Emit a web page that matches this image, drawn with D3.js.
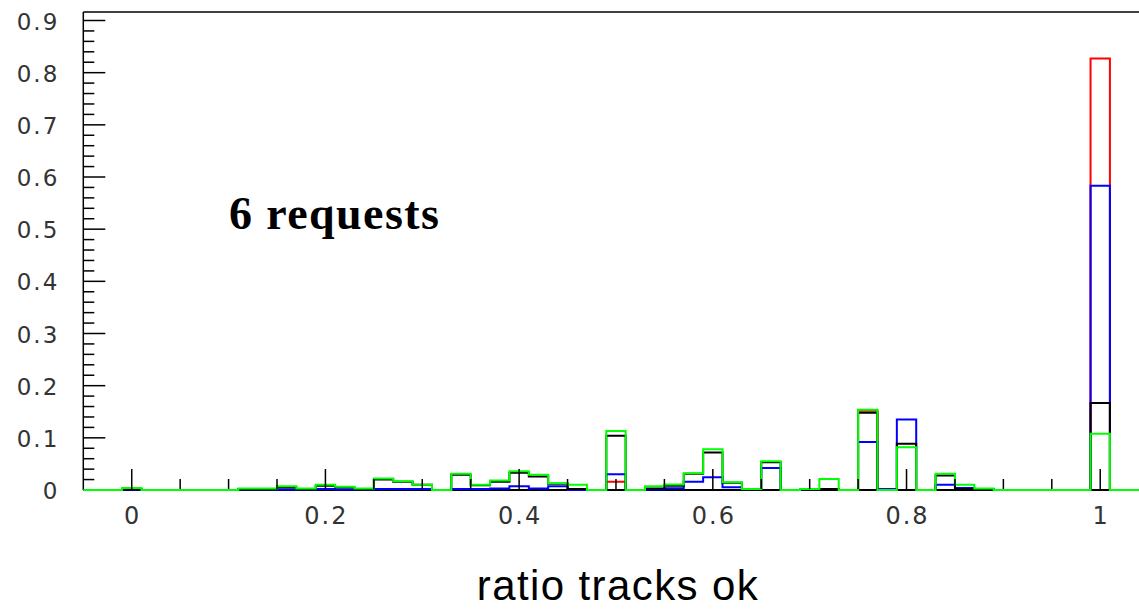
<!DOCTYPE html>
<html>
<head>
<meta charset="utf-8">
<script src="https://cdn.jsdelivr.net/npm/d3@7"></script>
<style>
  html, body { margin: 0; padding: 0; background: #fff; }
  svg { display: block; }
</style>
</head>
<body>
<svg id="chart" width="1139" height="610"></svg>
<script>
// Histogram binning: 55 bins of width 0.02 from -0.05 to 1.05
const binLow = -0.05;
const binWidth = 0.02;
const binCount = 55;

// Normalised bin contents, one array per request class (bin centres -0.04 ... 1.04)
const redValues = [
  0, 0, 0, 0, 0, 0, 0, 0, 0, 0,
  0, 0, 0, 0, 0, 0, 0, 0, 0, 0,
  0, 0, 0, 0, 0, 0, 0, 0.016, 0, 0,
  0, 0, 0, 0, 0, 0, 0, 0, 0, 0,
  0.152, 0, 0, 0, 0, 0, 0, 0, 0, 0,
  0, 0, 0.827, 0, 0
];
const blueValues = [
  0, 0, 0.001, 0, 0, 0, 0, 0, 0.001, 0.001,
  0.001, 0.001, 0.002, 0.001, 0.001, 0.002, 0.002, 0.002, 0, 0.002,
  0.002, 0.003, 0.007, 0.003, 0.007, 0, 0, 0.030, 0, 0.001,
  0.0035, 0.016, 0.0245, 0.0054, 0.002, 0.042, 0, 0.001, 0.002, 0,
  0.092, 0.002, 0.135, 0, 0.010, 0.004, 0.002, 0, 0, 0,
  0, 0, 0.583, 0, 0
];
const blackValues = [
  0, 0, 0.002, 0, 0, 0, 0, 0, 0.002, 0.002,
  0.005, 0.002, 0.008, 0.005, 0.002, 0.020, 0.016, 0.010, 0, 0.029,
  0.009, 0.016, 0.033, 0.026, 0.012, 0.002, 0, 0.104, 0, 0.003,
  0.008, 0.031, 0.072, 0.014, 0.002, 0.053, 0, 0.001, 0.002, 0,
  0.148, 0, 0.0885, 0, 0.028, 0.002, 0.001, 0, 0, 0,
  0, 0, 0.167, 0, 0
];
const greenValues = [
  0, 0, 0.004, 0, 0, 0, 0, 0, 0.003, 0.003,
  0.007, 0.003, 0.010, 0.006, 0.003, 0.022, 0.017, 0.010, 0, 0.031,
  0.010, 0.018, 0.036, 0.029, 0.013, 0.010, 0, 0.113, 0, 0.007,
  0.0105, 0.032, 0.078, 0.015, 0.002, 0.055, 0, 0.002, 0.021, 0,
  0.154, 0, 0.082, 0, 0.031, 0.010, 0.003, 0, 0, 0,
  0, 0, 0.108, 0, 0
];

// Drawing order: later series are drawn on top
const seriesList = [
  { name: "red", color: "#ff0000", values: redValues },
  { name: "blue", color: "#0000ff", values: blueValues },
  { name: "black", color: "#000000", values: blackValues },
  { name: "green", color: "#00ff00", values: greenValues }
];

const xTickLabels = ["0", "0.2", "0.4", "0.6", "0.8", "1"];
const yTickLabels = ["0", "0.1", "0.2", "0.3", "0.4", "0.5", "0.6", "0.7", "0.8", "0.9"];
const annotation = "6 requests";
const xTitle = "ratio tracks ok";

const xMin = binLow, xMax = binLow + binWidth * binCount;
const yMin = 0, yMax = 0.9163;

const frame = { left: 83.3, top: 12, bottom: 490 };
const pxPerX = 968.5;

const x = d3.scaleLinear().domain([xMin, xMax])
  .range([frame.left, frame.left + (xMax - xMin) * pxPerX]);
const y = d3.scaleLinear().domain([yMin, yMax]).range([frame.bottom, frame.top]);

const svg = d3.select("#chart");

// Frame: left axis line and top line
svg.append("line")
  .attr("x1", x(xMin)).attr("x2", x(xMin))
  .attr("y1", y(yMin)).attr("y2", y(yMax))
  .attr("stroke", "#000").attr("stroke-width", 1.5);
svg.append("line")
  .attr("x1", x(xMin)).attr("x2", x(xMax))
  .attr("y1", y(yMax)).attr("y2", y(yMax))
  .attr("stroke", "#000").attr("stroke-width", 1.5);

// Y axis ticks (pointing right into the frame) and labels, drawn under the histograms
const yMajor = yTickLabels.map(Number);
const yMinor = d3.range(0, yMax, 0.02).map(v => +v.toFixed(2))
  .filter(v => !yMajor.some(m => Math.abs(m - v) < 1e-6));
const yAxis = svg.append("g").attr("transform", `translate(${x(xMin)},0)`);
yAxis.selectAll("line.major").data(yMajor).join("line")
  .attr("class", "major")
  .attr("x1", 0).attr("x2", 22)
  .attr("y1", d => y(d)).attr("y2", d => y(d))
  .attr("stroke", "#000").attr("stroke-width", 1.5);
yAxis.selectAll("line.minor").data(yMinor).join("line")
  .attr("class", "minor")
  .attr("x1", 0).attr("x2", 11)
  .attr("y1", d => y(d)).attr("y2", d => y(d))
  .attr("stroke", "#000").attr("stroke-width", 1.5);
yAxis.selectAll("text").data(yTickLabels).join("text")
  .attr("x", -24)
  .attr("y", d => y(+d) + 9)
  .attr("text-anchor", "end")
  .attr("font-family", "DejaVu Sans, sans-serif")
  .attr("font-size", 23)
  .attr("letter-spacing", 2)
  .attr("fill", "#333")
  .text(d => d);

// Step outlines of the histograms
const stepLine = d3.line().x(d => x(d[0])).y(d => y(d[1]));
function stepPoints(values) {
  const pts = [[xMin, 0]];
  values.forEach((v, i) => {
    const lo = binLow + i * binWidth;
    pts.push([lo, v], [lo + binWidth, v]);
  });
  pts.push([xMax, 0]);
  return pts;
}
const histLayer = svg.append("g");
seriesList.forEach((s, k) => {
  histLayer.append("path")
    .datum(s)
    .attr("d", stepLine(stepPoints(s.values)))
    .attr("fill", "none")
    .attr("stroke", s.color)
    .attr("stroke-width", 2)
    .attr("stroke-linejoin", "miter");
  // the baseline goes over the first histogram and under the others
  if (k === 0) {
    histLayer.append("line")
      .attr("x1", x(xMin)).attr("x2", x(xMax))
      .attr("y1", y(0)).attr("y2", y(0))
      .attr("stroke", "#000").attr("stroke-width", 2);
  }
});

// X axis ticks (pointing up into the frame) and labels
const xMajor = xTickLabels.map(Number);
const xMinor = d3.range(-0.05, 1.0501, 0.05).map(v => +v.toFixed(2))
  .filter(v => !xMajor.some(m => Math.abs(m - v) < 1e-6) && v > xMin + 1e-6);
const xAxis = svg.append("g").attr("transform", `translate(0,${y(0) - 1})`);
xAxis.selectAll("line.major").data(xMajor).join("line")
  .attr("class", "major")
  .attr("x1", d => x(d)).attr("x2", d => x(d))
  .attr("y1", 0).attr("y2", -20)
  .attr("stroke", "#000").attr("stroke-width", 1.5);
xAxis.selectAll("line.minor").data(xMinor).join("line")
  .attr("class", "minor")
  .attr("x1", d => x(d)).attr("x2", d => x(d))
  .attr("y1", 0).attr("y2", -10)
  .attr("stroke", "#000").attr("stroke-width", 1.5);
xAxis.selectAll("text").data(xTickLabels).join("text")
  .attr("x", d => x(+d) + 1)
  .attr("y", 35)
  .attr("text-anchor", "middle")
  .attr("font-family", "DejaVu Sans, sans-serif")
  .attr("font-size", 24)
  .attr("letter-spacing", 2)
  .attr("fill", "#333")
  .text(d => d);

// Annotation and axis title
svg.append("text")
  .attr("x", 229).attr("y", 229)
  .attr("font-family", "Liberation Serif, Times New Roman, serif")
  .attr("font-weight", "bold")
  .attr("font-size", 46)
  .attr("letter-spacing", 1.4)
  .attr("fill", "#000")
  .text(annotation);
svg.append("text")
  .attr("x", 618).attr("y", 600)
  .attr("text-anchor", "middle")
  .attr("font-family", "Liberation Sans, Arial, sans-serif")
  .attr("font-size", 42)
  .attr("letter-spacing", 1.4)
  .attr("fill", "#000")
  .text(xTitle);
</script>
</body>
</html>
